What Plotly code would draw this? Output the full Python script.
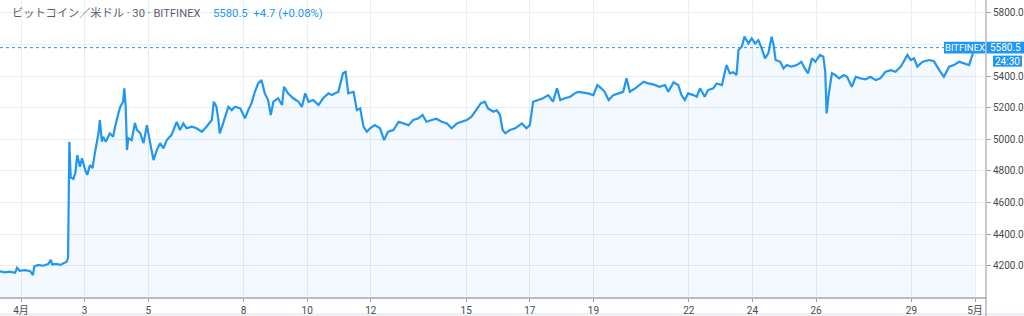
import pandas as pd
import plotly.graph_objects as go

# hours since 2019-04-01 00:00 (JST) and close prices (BTC/USD, Bitfinex, 30m)
hours = [-16, -12, -8.5, -4.5, -3, -1, 3, 7, 9, 10, 13, 16.5, 20.5, 22.5, 23.5, 26.5, 29.5, 32.5, 34.5, 35.5,
         36.5, 37.5, 39.5, 41, 42.5, 44.5, 46, 48.5, 50, 52, 54, 55.5, 57, 58.5, 59.5, 61, 62, 64, 67, 69.5,
         71, 72, 73.5, 75, 77, 78, 79, 80, 81, 83.5, 86, 87.5, 90, 92.5, 95, 97.5, 100, 102.5, 105, 107.5,
         110, 113.5, 117.5, 120, 122.5, 125, 129, 132.5, 136.5, 140, 144, 145.5, 147.5, 149, 150, 152.5,
         156.5, 159, 161.5, 165.5, 169, 171.5, 174, 176.5, 179, 181.5, 184, 186.5, 188.5, 190.5, 194, 197,
         198.5, 201.5, 205.5, 209.5, 212, 214.5, 217, 220.5, 224.5, 228, 232, 234.5, 239.5, 243, 245, 247,
         251, 253.5, 256, 258.5, 261, 263.5, 267, 271, 274, 277, 281, 285, 288.5, 292.5, 296, 300, 303, 306,
         310, 313.5, 317.5, 321.5, 325, 329, 332.5, 336.5, 340, 344, 347, 350, 352.5, 356.5, 359, 361.5,
         363.5, 365.5, 369, 373, 378, 381.5, 384, 386.5, 390.5, 394, 398, 401.5, 404.5, 407, 410.5, 414.5,
         418, 420.5, 424.5, 428, 432, 435, 438, 440.5, 443.5, 447, 451, 454.5, 457, 459.5, 463.5, 467, 470,
         473.5, 477, 482, 486, 488.5, 492.5, 496, 498.5, 501, 503.5, 507.5, 510, 512.5, 516, 518.5, 522.5,
         525, 529, 531.5, 532.5, 535, 537.5, 540, 541.5, 544, 546, 549, 551.5, 554, 556.5, 559, 561.5, 564,
         566.5, 568, 569.5, 573, 575.5, 578, 581.5, 585.5, 589, 591.5, 594, 597, 599.5, 603, 605.5, 607, 608,
         609.5, 612, 614.5, 617.5, 621, 623.5, 627, 630, 633.5, 637.5, 641, 645, 648.5, 652.5, 656.5, 660,
         664, 669, 671.5, 674, 676.5, 680.5, 685.5, 689, 693, 696.5, 700.5, 704, 708, 712, 715.5, 718, 719.5]
prices = [4165, 4158, 4162, 4155, 4187, 4168, 4172, 4165, 4140, 4195, 4205, 4200, 4210, 4237, 4208, 4212, 4205, 4215, 4225, 4250,
          4985, 4760, 4750, 4787, 4900, 4827, 4880, 4805, 4775, 4837, 4818, 4900, 4975, 5040, 5122, 4985, 5016, 4985, 5038, 5016,
          5080, 5122, 5165, 5206, 5238, 5323, 5206, 4932, 5008, 4995, 5103, 5059, 5039, 4976, 5090, 4976, 4869, 4932, 4976, 4943,
          4995, 5027, 5111, 5059, 5101, 5070, 5080, 5070, 5048, 5080, 5122, 5238, 5206, 5122, 5038, 5101,
          5206, 5185, 5206, 5196, 5133, 5185, 5228, 5301, 5354, 5375, 5291, 5249, 5154, 5238, 5260, 5217,
          5333, 5291, 5260, 5238, 5206, 5291, 5238, 5249, 5217, 5260, 5291, 5280, 5301, 5418, 5428, 5291,
          5301, 5185, 5196, 5080, 5048, 5070, 5090, 5070, 4995, 5048, 5059, 5111, 5101, 5090, 5122, 5133, 5154, 5111,
          5122, 5130, 5111, 5101, 5070, 5101, 5111, 5122, 5143, 5196, 5228, 5238, 5196, 5175, 5185, 5154,
          5059, 5038, 5059, 5070, 5101, 5070, 5090, 5238, 5249, 5260, 5280, 5238, 5323, 5249, 5260, 5270,
          5291, 5301, 5296, 5291, 5280, 5344, 5323, 5301, 5249, 5280, 5291, 5301, 5386, 5301, 5323, 5344, 5365,
          5354, 5348, 5333, 5344, 5301, 5361, 5344, 5280, 5249, 5291, 5280, 5270, 5323, 5270, 5312, 5323,
          5354, 5344, 5438, 5470, 5418, 5425, 5407, 5565, 5586, 5650, 5607, 5639, 5607, 5628, 5576, 5513, 5544,
          5650, 5597, 5502, 5491, 5449, 5470, 5460, 5470, 5491, 5449, 5418, 5513, 5491, 5534, 5523, 5428, 5164,
          5280, 5418, 5407, 5386, 5407, 5396, 5333, 5396, 5386, 5380, 5396, 5375, 5386, 5428, 5438, 5428,
          5460, 5534, 5502, 5513, 5460, 5491, 5502, 5495, 5438, 5396, 5460, 5470, 5491, 5481, 5470, 5534, 5580.5]

tick_dates = ["2019-04-01", "2019-04-03", "2019-04-05", "2019-04-08", "2019-04-10", "2019-04-12", "2019-04-15",
              "2019-04-17", "2019-04-19", "2019-04-22", "2019-04-24", "2019-04-26", "2019-04-29", "2019-05-01"]
tick_labels = ["4月", "3", "5", "8", "10", "12", "15", "17", "19", "22", "24", "26", "29", "5月"]
y_ticks = [4200, 4400, 4600, 4800, 5000, 5200, 5400, 5600, 5800]
# 5600 label is hidden behind the last-price badge in the original
y_labels = ["" if v == 5600 else f"{v:.1f}" for v in y_ticks]

last_price = 5580.5
title_main = "ビットコイン／米ドル · 30 · BITFINEX"
title_price = "5580.5&nbsp;&nbsp;+4.7 (+0.08%)"
exchange = "BITFINEX"
countdown = "24:30"

base = pd.Timestamp("2019-04-01 00:00")
times = [base + pd.Timedelta(hours=h) for h in hours]

BLUE = "#2196F3"
FONT = "Roboto, 'Noto Sans CJK JP', sans-serif"

fig = go.Figure()
fig.add_trace(go.Scatter(
    x=times, y=prices, mode="lines",
    line=dict(color=BLUE, width=2.2),
    fill="tozeroy", fillcolor="rgba(33,150,243,0.055)",
    hoverinfo="skip", showlegend=False,
))

fig.update_layout(
    width=1024, height=316,
    margin=dict(l=0, r=38, t=0, b=19, pad=0),
    paper_bgcolor="white", plot_bgcolor="white",
    font=dict(family=FONT, size=11, color="#4a4a4a"),
    xaxis=dict(
        type="date",
        range=[pd.Timestamp("2019-03-31 08:09"), pd.Timestamp("2019-05-01 08:18")],
        tickvals=tick_dates, ticktext=tick_labels,
        showgrid=True, gridcolor="#e9eef4", gridwidth=1,
        showline=True, linecolor="#b9bcc4", linewidth=2,
        ticks="outside", ticklen=3, tickcolor="#9a9da5",
        tickfont=dict(size=10, color="#4a4a4a"),
        zeroline=False, fixedrange=True,
    ),
    yaxis=dict(
        side="right",
        range=[4002, 5882],
        tickvals=y_ticks, ticktext=y_labels,
        showgrid=True, gridcolor="#e9eef4", gridwidth=1,
        showline=False,
        ticks="outside", ticklen=4, tickcolor="#9a9da5",
        tickfont=dict(size=10, color="#4a4a4a"),
        zeroline=False, fixedrange=True,
    ),
)

shapes = [
    dict(type="line", xref="paper", yref="y", x0=0, x1=1, y0=last_price, y1=last_price,
         line=dict(color=BLUE, width=1, dash="dot")),
    dict(type="line", xref="paper", yref="paper", x0=1, x1=1, y0=-19 / 297, y1=1,
         line=dict(color="#8f929b", width=1)),
    dict(type="rect", xref="paper", yref="paper", x0=0, x1=1024 / 986, y0=-19 / 297, y1=-16 / 297,
         line=dict(width=0), fillcolor="#eef0f3", layer="below"),
    dict(type="rect", xref="paper", yref="y", x0=944 / 986, x1=985 / 986, y0=5544, y1=5618,
         line=dict(width=0), fillcolor=BLUE),
    dict(type="rect", xref="paper", yref="y", x0=986.5 / 986, x1=1024 / 986, y0=5544, y1=5618,
         line=dict(width=0), fillcolor=BLUE),
    dict(type="rect", xref="paper", yref="y", x0=993 / 986, x1=1022 / 986, y0=5460, y1=5530,
         line=dict(width=0), fillcolor=BLUE),
]
fig.update_layout(shapes=shapes)

annotations = [
    dict(text=title_main, xref="paper", yref="paper", x=10 / 986, y=1 - 13 / 297,
         xanchor="left", yanchor="middle", showarrow=False,
         font=dict(family=FONT, size=11.2, color="#5d606b")),
    dict(text=title_price, xref="paper", yref="paper", x=211 / 986, y=1 - 13 / 297,
         xanchor="left", yanchor="middle", showarrow=False,
         font=dict(family=FONT, size=11.3, color=BLUE)),
    dict(text=exchange, xref="paper", yref="y", x=964.5 / 986, y=5581,
         xanchor="center", yanchor="middle", showarrow=False,
         font=dict(family=FONT, size=9.5, color="white")),
    dict(text=f"{last_price:.1f}", xref="paper", yref="y", x=1005 / 986, y=5581,
         xanchor="center", yanchor="middle", showarrow=False,
         font=dict(family=FONT, size=10, color="white")),
    dict(text=countdown, xref="paper", yref="y", x=1007.5 / 986, y=5495,
         xanchor="center", yanchor="middle", showarrow=False,
         font=dict(family=FONT, size=10, color="white")),
]
fig.update_layout(annotations=annotations)

fig.write_html("out.html")
